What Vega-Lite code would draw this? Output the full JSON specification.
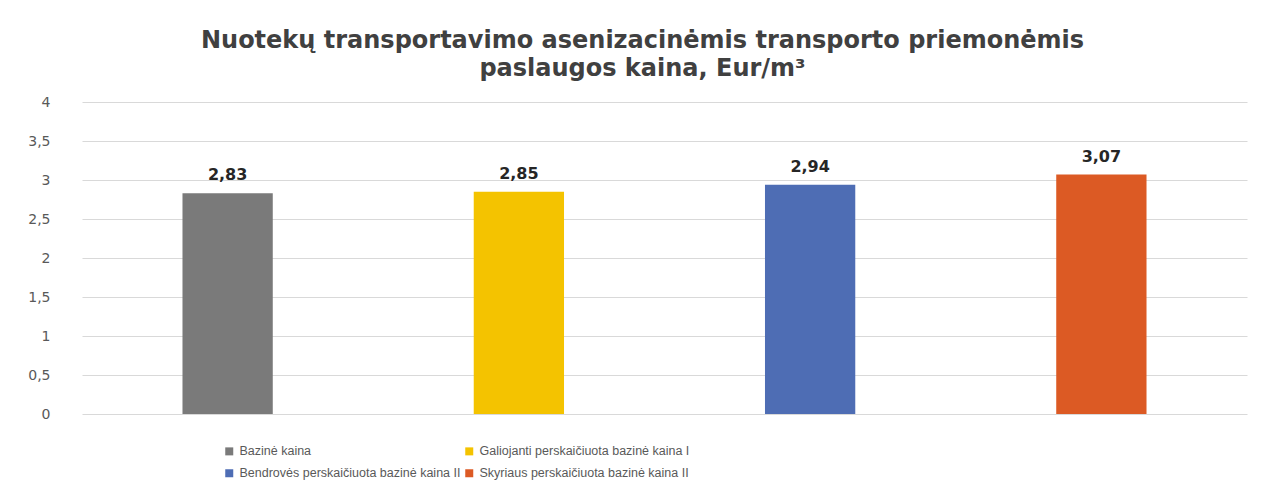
{
  "$schema": "https://vega.github.io/schema/vega-lite/v6.json",
  "width": 1165,
  "height": 312,
  "autosize": {"type": "none"},
  "padding": {"left": 82, "top": 102, "right": 22, "bottom": 81},
  "background": "white",
  "config": {
    "locale": {"number": {"decimal": ",", "thousands": " ", "grouping": [3], "currency": ["", " €"]}},
    "view": {"stroke": null},
    "font": "DejaVu Sans"
  },
  "title": {
    "text": ["Nuotekų transportavimo asenizacinėmis transporto priemonėmis", "paslaugos kaina, Eur/m³"],
    "font": "DejaVu Sans",
    "fontSize": 24,
    "fontWeight": "bold",
    "color": "#404040",
    "lineHeight": 28,
    "anchor": "middle",
    "frame": "group",
    "dx": -22,
    "offset": 14
  },
  "data": {
    "values": [
      {"category": "Bazinė kaina", "value": 2.83},
      {"category": "Galiojanti perskaičiuota bazinė kaina I", "value": 2.85},
      {"category": "Bendrovės perskaičiuota bazinė kaina II", "value": 2.94},
      {"category": "Skyriaus perskaičiuota bazinė kaina II", "value": 3.07}
    ]
  },
  "encoding": {
    "x": {
      "field": "category",
      "type": "nominal",
      "sort": null,
      "scale": {"paddingInner": 0.69, "paddingOuter": 0.345},
      "axis": null
    },
    "y": {
      "field": "value",
      "type": "quantitative",
      "scale": {"domain": [0, 4], "nice": false},
      "axis": {
        "values": [0, 0.5, 1, 1.5, 2, 2.5, 3, 3.5, 4],
        "format": "~r",
        "title": null,
        "domain": false,
        "ticks": false,
        "labelPadding": 32,
        "labelFont": "DejaVu Sans",
        "labelFontSize": 14,
        "labelColor": "#595959",
        "gridColor": "#d9d9d9",
        "gridWidth": 1
      }
    }
  },
  "layer": [
    {
      "mark": {"type": "bar"},
      "encoding": {
        "color": {
          "field": "category",
          "type": "nominal",
          "sort": null,
          "scale": {
            "domain": ["Bazinė kaina", "Galiojanti perskaičiuota bazinė kaina I", "Bendrovės perskaičiuota bazinė kaina II", "Skyriaus perskaičiuota bazinė kaina II"],
            "range": ["#7a7a7a", "#f4c300", "#4e6db4", "#dc5a24"]
          },
          "legend": {
            "orient": "none",
            "legendX": 141,
            "legendY": 343,
            "columns": 2,
            "direction": "horizontal",
            "title": null,
            "symbolType": "square",
            "symbolSize": 64,
            "symbolStrokeWidth": 0,
            "labelFont": "Liberation Sans",
            "labelFontSize": 12.5,
            "labelColor": "#595959",
            "labelLimit": 400,
            "labelOffset": 4,
            "rowPadding": 9,
            "columnPadding": 2,
            "padding": 0
          }
        }
      }
    },
    {
      "mark": {"type": "text", "baseline": "bottom", "dy": -10, "fontWeight": "bold", "fontSize": 16, "font": "DejaVu Sans", "color": "#262626"},
      "encoding": {
        "text": {"field": "value", "type": "quantitative", "format": ".2f"}
      }
    }
  ]
}
